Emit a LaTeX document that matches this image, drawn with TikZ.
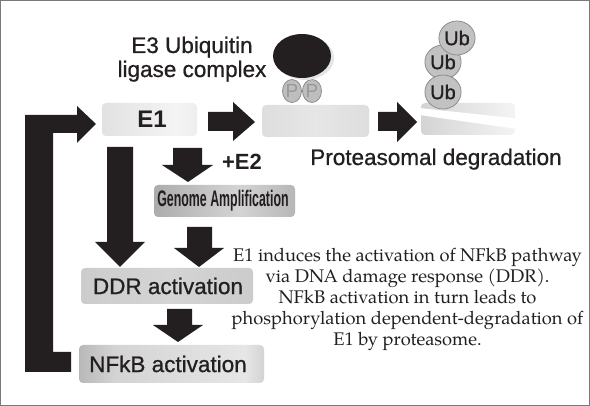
\documentclass[tikz,border=0pt]{standalone}
\usepackage{fontspec}
\usepackage{graphicx}
\usetikzlibrary{shapes.geometric}
\newfontfamily\arialf{Liberation Sans}
\newfontfamily\arialr[FakeBold=0.8]{Liberation Sans}
\newfontfamily\palf{TeX Gyre Pagella}
\definecolor{ablack}{HTML}{231F20}
\definecolor{frame}{HTML}{7A7A7A}
\definecolor{ubfill}{HTML}{C2C2C2}
\definecolor{ubline}{HTML}{8C8C8C}
\definecolor{pfill}{HTML}{BEBEBE}
\definecolor{gA}{HTML}{D6D6D6}
\definecolor{gB}{HTML}{F4F4F4}
\definecolor{gC}{HTML}{DCDCDC}
\definecolor{gD}{HTML}{727272}
\definecolor{gE}{HTML}{D4D4D4}
\definecolor{gF}{HTML}{C4C4C4}
\definecolor{gG}{HTML}{E6E6E6}
\definecolor{gH}{HTML}{A8A8A8}
\pgfdeclarehorizontalshading{lightbox}{100bp}{color(0bp)=(gA); color(65bp)=(gB); color(100bp)=(gC)}
\pgfdeclarehorizontalshading{midbox}{100bp}{color(0bp)=(gA); color(50bp)=(gG); color(100bp)=(gA)}
\pgfdeclarehorizontalshading{degbox}{100bp}{color(0bp)=(gF); color(75bp)=(gB); color(100bp)=(gC)}
\pgfdeclarehorizontalshading{darkbox}{100bp}{color(0bp)=(gD); color(22bp)=(gH); color(55bp)=(gE); color(85bp)=(gH); color(100bp)=(gD)}
\pgfdeclarehorizontalshading{ddrbox}{100bp}{color(0bp)=(gF); color(50bp)=(gE); color(100bp)=(gF)}
\pgfdeclarehorizontalshading{nfbox}{100bp}{color(0bp)=(gD); color(35bp)=(gE); color(70bp)=(gG); color(100bp)=(gD)}
\tikzset{
  barrow/.style={fill=ablack, draw=none},
  gbox/.style={rectangle, rounded corners=4pt, draw=none, inner sep=0pt},
  lbl/.style={font=\arialr\fontsize{22.5}{27}\selectfont, text=ablack, inner sep=0pt},
  blbl/.style={font=\arialf\bfseries\fontsize{24}{28}\selectfont, text=ablack, inner sep=0pt},
  para/.style={font=\palf\fontsize{18.3}{22}\selectfont, text=ablack, inner sep=0pt, anchor=base},
  ub/.style={ellipse, fill=ubfill, draw=ubline, line width=0.8pt, minimum width=31pt, minimum height=34pt, inner sep=0pt, font=\arialr\fontsize{20}{24}\selectfont, text=ablack},
  pb/.style={ellipse, fill=pfill, draw=ubline, line width=0.8pt, minimum width=19pt, minimum height=23pt, inner sep=0pt, font=\arialf\fontsize{19}{22}\selectfont, text=gray!80},
}
\begin{document}
\begin{tikzpicture}[x=1pt,y=-1pt]
\useasboundingbox (0,0) rectangle (590,406);
\fill[white] (0,0) rectangle (590,406);
\draw[frame, line width=1pt] (0.5,0.5) rectangle (589.5,405.5);

% boxes
\node[gbox, shading=lightbox, minimum width=95pt, minimum height=33pt] (e1) at (149.5,119.5) {};
\node[blbl] (e1t) at (152,119.5) {E1};
\node[gbox, shading=midbox, minimum width=107pt, minimum height=32pt] (sub) at (315.5,121) {};
\node[gbox, shading=degbox, minimum width=94pt, minimum height=32pt] (deg) at (468,119) {};
\fill[white] (419,108) -- (517,118.5) -- (517,129) -- (419,115) -- cycle;
\node[gbox, shading=darkbox, minimum width=141pt, minimum height=32pt] (gen) at (224.5,201) {};
\node[inner sep=0pt, text=ablack] (gent) at (223,201) {\scalebox{0.55}[1]{\arialf\bfseries\fontsize{22.5}{26}\selectfont Genome Amplification}};
\node[gbox, shading=ddrbox, minimum width=172pt, minimum height=36pt] (ddr) at (167,286) {};
\node[lbl] (ddrt) at (168,286) {DDR activation};
\node[gbox, shading=nfbox, minimum width=185pt, minimum height=38pt] (nfkb) at (171.5,364) {};
\node[lbl] (nfkbt) at (168,364) {NFkB activation};

% E3 complex
\node[pb] (p1) at (292,91) {P};
\node[pb] (p2) at (312,91) {P};
\fill[gray!20] (305,58) ellipse [x radius=29, y radius=22];
\fill[ablack] (302,56) ellipse [x radius=29, y radius=22];
\coordinate (e3) at (302,56);

% Ub chain
\node[ub] (ub2) at (443,62) {Ub};
\node[ub] (ub1) at (443,92) {Ub};
\node[ub] (ub3) at (457,38) {Ub};

% texts
\node[lbl, anchor=base] (e3a) at (192,53) {E3 Ubiquitin};
\node[lbl, anchor=base] (e3b) at (192,77) {ligase complex};
\node[lbl, anchor=base] (prot) at (436,165) {Proteasomal degradation};
\node[blbl, anchor=base, font=\arialf\bfseries\fontsize{22}{26}\selectfont] (e2) at (242,170) {+E2};

\node[para] (l1) at (407.5,262) {E1 induces the activation of NFkB pathway};
\node[para] (l2) at (407.5,283) {via DNA damage response (DDR).};
\node[para] (l3) at (407.5,304) {NFkB activation in turn leads to};
\node[para] (l4) at (407.5,325) {phosphorylation dependent-degradation of};
\node[para] (l5) at (407.5,346) {E1 by proteasome.};

% block arrows
% feedback
\fill[barrow] (25,372) -- (71,372) -- (71,352) -- (53,352) -- (53,133) -- (77,133) -- (77,143) -- (96,124) -- (77,106) -- (77,115) -- (25,115) -- cycle;
% E1 -> substrate
\fill[barrow] (208,112) -- (233,112) -- (233,102) -- (255,122) -- (233,141) -- (233,131) -- (208,131) -- cycle;
% substrate -> degraded
\fill[barrow] (378,112) -- (397,112) -- (397,102) -- (417,122) -- (397,142) -- (397,131) -- (378,131) -- cycle;
% E1 -> DDR
\fill[barrow] (107,147) -- (133,147) -- (133,242) -- (145,242) -- (120,267) -- (95,242) -- (107,242) -- cycle;
% +E2
\fill[barrow] (173,148) -- (202,148) -- (202,165) -- (213,165) -- (188,182) -- (162,165) -- (173,165) -- cycle;
% Genome -> DDR
\fill[barrow] (187,227) -- (212,227) -- (212,248) -- (224,248) -- (199,267) -- (174,248) -- (187,248) -- cycle;
% DDR -> NFkB
\fill[barrow] (167,309) -- (192,309) -- (192,325) -- (203,325) -- (178,342) -- (153,325) -- (167,325) -- cycle;
\end{tikzpicture}
\end{document}
